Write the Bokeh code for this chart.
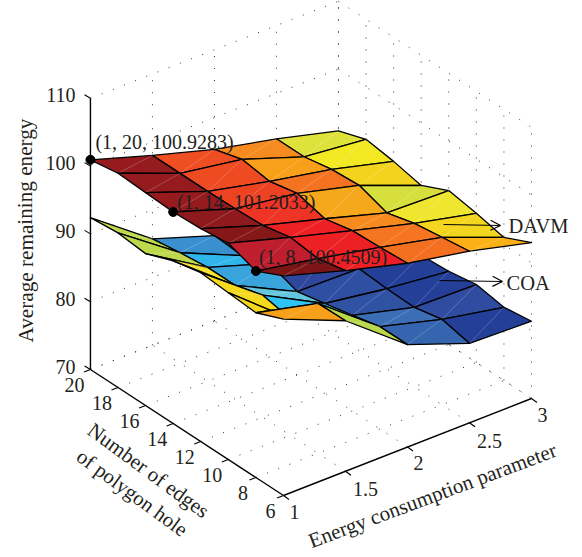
from bokeh.plotting import figure
from bokeh.models import Range1d, Arrow, OpenHead
from bokeh.core.properties import value
from bokeh.embed import file_html
from bokeh.resources import INLINE

# ---------- data ----------
x_vals = [1, 1.5, 2, 2.5, 3]
y_vals = [20, 18, 16, 14, 12, 10, 8, 6]

davm_z = [
    [100.93, 98.0, 95.3, 93.3, 90.9],
    [101.6, 98.0, 96.5, 93.3, 92.3],
    [101.4, 98.0, 95.9, 94.1, 91.7],
    [101.20, 98.1, 96.8, 94.4, 90.8],
    [101.4, 98.3, 95.7, 93.0, 92.7],
    [101.9, 99.2, 96.6, 94.1, 92.0],
    [100.45, 98.7, 96.8, 94.7, 91.1],
    [102.4, 99.6, 97.1, 95.3, 93.0],
]
coa_z = [
    [92.4, 85.7, 82.6, 82.0, 81.0],
    [92.8, 86.3, 82.3, 82.0, 81.0],
    [92.4, 86.8, 83.8, 82.2, 80.8],
    [94.0, 86.8, 82.3, 82.1, 80.5],
    [94.9, 88.0, 83.2, 81.8, 80.8],
    [94.6, 87.2, 84.1, 81.7, 81.5],
    [94.3, 92.1, 85.1, 82.6, 80.8],
    [96.0, 92.2, 85.1, 81.7, 81.4],
]
davm_colors = [
    ["#961b1e", "#ef4e23", "#f68b1f", "#e0e23c"],
    ["#961b1e", "#ef4b23", "#f9a01b", "#f2e824"],
    ["#961b1e", "#ee4323", "#f47321", "#f4d31f"],
    ["#8e1a1e", "#ee3424", "#f6a81c", "#d7df3c"],
    ["#851719", "#ed2024", "#f78a1e", "#eee62f"],
    ["#bf1e2e", "#ed2024", "#f57521", "#f5d61e"],
    ["#7d1416", "#ed1f24", "#f37021", "#fbb116"],
]
coa_colors = [
    ["#bdd84a", "#3a8fcf", "#2e4fa2", "#233f98"],
    ["#bdd84a", "#2fb5ea", "#2b4da0", "#233f98"],
    ["#f4e432", "#39a4dc", "#2e479c", "#233f98"],
    ["#f4e432", "#62c6de", "#2f4fa2", "#233f98"],
    ["#f5d91f", "#2ec3f0", "#3052a3", "#233f98"],
    ["#f6d91e", "#b9d84a", "#3b6eb5", "#2f4ca0"],
    ["#f7a01b", "#b9d84a", "#3565ae", "#233f98"],
]
x_ticks = ["1", "1.5", "2", "2.5", "3"]
y_ticks = ["20", "18", "16", "14", "12", "10", "8", "6"]
z_ticks = ["70", "80", "90", "100", "110"]
markers = [(1, 20, 100.93), (1, 14, 101.20), (1, 8, 100.45)]
marker_labels = ["(1, 20, 100.9283)", "(1, 14, 101.2033)", "(1, 8, 100.4509)"]

# ---------- projection (orthographic, page pixels) ----------
X0, Y0 = 283.0, 495.0
def proj(x, y, z):
    return (X0 + 124.0 * (x - 1) - 13.79 * (y - 6),
            Y0 - 48.5 * (x - 1) - 9.0 * (y - 6) - 6.78 * (z - 70))

FONT = value("Liberation Serif")
p = figure(width=582, height=557, x_range=Range1d(0, 582), y_range=Range1d(557, 0),
           x_axis_type=None, y_axis_type=None, toolbar_location=None,
           output_backend="svg", min_border=0, outline_line_color=None)
p.grid.visible = False
p.background_fill_color = "white"

# ---------- dotted box grid ----------
xn = [float(t) for t in x_ticks]
yn = [float(t) for t in y_ticks]
zn = [float(t) for t in z_ticks]
xmin, xmax, ymin, ymax, zmin, zmax = 1, 3, 6, 20, 70, 110
seg = []
for x in xn[1:]:
    seg.append((proj(x, ymin, zmin), proj(x, ymax, zmin)))
for y in yn[:-1]:
    seg.append((proj(xmin, y, zmin), proj(xmax, y, zmin)))
for x in xn:
    seg.append((proj(x, ymax, zmin), proj(x, ymax, zmax)))
for z in zn:
    seg.append((proj(xmin, ymax, z), proj(xmax, ymax, z)))
for y in yn:
    seg.append((proj(xmax, y, zmin), proj(xmax, y, zmax)))
for z in zn:
    seg.append((proj(xmax, ymax, z), proj(xmax, ymin, z)))
p.multi_line([[a[0], b[0]] for a, b in seg], [[a[1], b[1]] for a, b in seg],
             line_color="#333333", line_width=1, line_dash="1 11")

# ---------- surfaces ----------
def surface(zs, colors):
    for i in range(len(x_vals) - 2, -1, -1):
        for j in range(len(y_vals) - 1):
            corners = [(i, j), (i + 1, j), (i + 1, j + 1), (i, j + 1)]
            pts = [proj(x_vals[a], y_vals[b], zs[b][a]) for a, b in corners]
            p.patch([q[0] for q in pts], [q[1] for q in pts], fill_color=colors[j][i],
                    line_color="black", line_width=1.3, line_join="round")
            p.line([pts[3][0], pts[1][0]], [pts[3][1], pts[1][1]], line_color="white",
                   line_width=0.6, line_alpha=0.35)

surface(coa_z, coa_colors)
surface(davm_z, davm_colors)

# ---------- axes ----------
def ax(a, b, w=1.4):
    p.line([a[0], b[0]], [a[1], b[1]], line_color="black", line_width=w)

ax(proj(xmin, ymax, zmin), proj(xmin, ymax, zmax))
ax(proj(xmin, ymax, zmin), proj(xmin, ymin, zmin))
ax(proj(xmin, ymin, zmin), proj(xmax, ymin, zmin))
for z in zn:
    a = proj(xmin, ymax, z)
    ax(a, (a[0] - 5.9, a[1] - 3.5), 1.1)
for y in yn:
    a = proj(xmin, y, zmin)
    ax(a, (a[0] - 6.5, a[1] + 2.5), 1.1)
for x in xn:
    a = proj(x, ymin, zmin)
    ax(a, (a[0] + 5.5, a[1] + 4.0), 1.1)

# ---------- tick labels ----------
TXT = "#231f20"
def txt(x, y, s, size=20, angle=0.0, align="center"):
    p.text([x], [y], text=[s], text_font=FONT, text_font_size=f"{size}px", text_color=TXT,
           text_align=align, text_baseline="middle", angle=angle)

for t in z_ticks:
    a = proj(xmin, ymax, float(t))
    txt(a[0] - 15, a[1] - 3, t, align="right")
for t in y_ticks:
    a = proj(xmin, float(t), zmin)
    txt(a[0] + (-16 if len(t) > 1 else -13), a[1] + 15, t)
for t in x_ticks:
    a = proj(float(t), ymin, zmin)
    txt(a[0] + (20 if "." in t else 11), a[1] + (18 if "." in t else 16), t)

# ---------- axis titles ----------
txt(25, 230, "Average remaining energy", 21.2, 1.5708)
txt(148, 470, "Number of edges", 21, -0.633)
txt(132, 492, "of polygon hole", 20.8, -0.633)
txt(432, 495, "Energy consumption parameter", 21, 0.359)

# ---------- data tips ----------
mp = [proj(*m) for m in markers]
p.scatter([q[0] for q in mp], [q[1] for q in mp], size=9, color="black")
tip_off = [(5, -18), (4, -10), (3, -14)]
for q, s, o in zip(mp, marker_labels, tip_off):
    txt(q[0] + o[0], q[1] + o[1], s, 20, align="left")

# ---------- series labels ----------
head1 = OpenHead(size=10, line_color="black", line_width=1.2)
head2 = OpenHead(size=10, line_color="black", line_width=1.2)
p.add_layout(Arrow(end=head1, x_start=443, y_start=224, x_end=500, y_end=225,
                   line_color="black", line_width=1.2))
p.add_layout(Arrow(end=head2, x_start=439, y_start=280, x_end=502, y_end=281,
                   line_color="black", line_width=1.2))
txt(508, 225, "DAVM", 20.5, align="left")
txt(506, 282, "COA", 20.5, align="left")

open("out.html", "w").write(file_html(p, INLINE))
